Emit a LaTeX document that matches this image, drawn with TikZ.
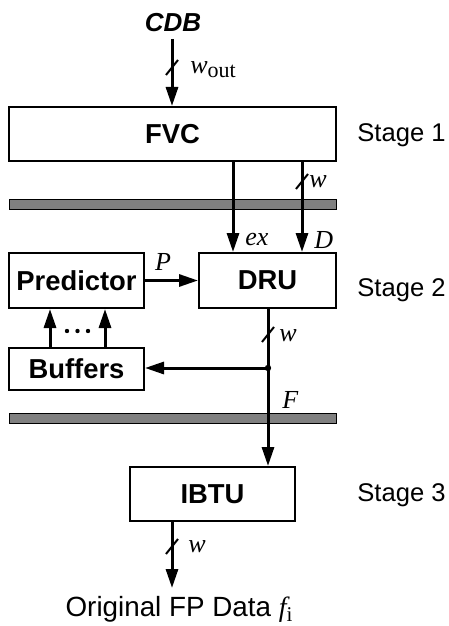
\documentclass[tikz,border=0pt]{standalone}
\usepackage{fontspec}
\setmainfont{Liberation Sans}
\newfontfamily\tms{Liberation Serif}
\usetikzlibrary{arrows.meta}
\definecolor{bargray}{RGB}{128,128,128}
\newcommand{\mv}[1]{{\tms\itshape #1}}
\newcommand{\mr}[1]{{\tms #1}}
\begin{document}
\begin{tikzpicture}[x=0.5pt,y=-0.5pt,
  blk/.style={draw=black,line width=1pt,fill=white,font=\bfseries\fontsize{13.7}{16}\selectfont,inner sep=0pt},
  busbar/.style={draw=black,line width=0.5pt,fill=bargray,minimum width=163.5pt,minimum height=5pt,inner sep=0pt},
  wire/.style={line width=1.5pt},
  arr/.style={wire,-{Triangle[length=9.5pt,width=6pt]}},
  lbl/.style={font=\fontsize{13}{15}\selectfont,inner sep=0pt},
  stg/.style={font=\fontsize{12.8}{15}\selectfont,anchor=west,inner sep=0pt},
  slash/.style={line width=1pt}]
\useasboundingbox (0,0) rectangle (449,626);
% bars
\node[busbar] (bar1) at (172.5,204) {};
\node[busbar] (bar2) at (172.5,418) {};
% blocks
\node[blk,minimum width=163.5pt,minimum height=27pt] (fvc) at (172.5,134) {FVC};
\node[blk,minimum width=67.5pt,minimum height=27.5pt] (pred) at (76.5,280.5) {Predictor};
\node[blk,minimum width=68.5pt,minimum height=27.5pt] (dru) at (267.5,280.5) {DRU};
\node[blk,minimum width=67.5pt,minimum height=21pt] (buf) at (76.5,369) {Buffers};
\node[blk,minimum width=82.5pt,minimum height=27pt] (ibtu) at (212.5,494) {IBTU};
% texts
\node[font=\bfseries\itshape\fontsize{13}{15}\selectfont,inner sep=0pt] (cdb) at (173,23) {CDB};
\node[font=\fontsize{13.9}{16}\selectfont,inner sep=0pt] (out) at (179,609) {Original FP Data \mv{f}\raisebox{-0.35ex}{\mr{\fontsize{10.5}{12}\selectfont i}}};
\node[stg] (s1) at (357,135) {Stage 1};
\node[stg] (s2) at (357,290) {Stage 2};
\node[stg] (s3) at (357,495) {Stage 3};
% coordinates
\coordinate (cin) at (172,39);
\coordinate (xe) at (233,0);
\coordinate (xd) at (302,0);
\coordinate (xm) at (268,0);
\coordinate (xo) at (172,0);
\coordinate (jn) at (268,368);
\coordinate (xb1) at (50,0);
\coordinate (xb2) at (105,0);
% connectors
\draw[arr] (cin) -- (cin |- fvc.north);
\draw[arr] (fvc.south -| xe) -- (dru.north -| xe);
\draw[arr] (fvc.south -| xd) -- (dru.north -| xd);
\draw[arr] (pred.east) -- (dru.west);
\draw[wire] (dru.south -| xm) -- (jn);
\draw[arr] (jn) -- (ibtu.north -| xm);
\draw[arr] (jn) -- (buf.east |- jn);
\fill (jn) circle (3.2);
\draw[arr] (buf.north -| xb1) -- (pred.south -| xb1);
\draw[arr] (buf.north -| xb2) -- (pred.south -| xb2);
\draw[arr] (ibtu.south -| xo) -- (xo |- 588,588);
% slashes
\draw[slash] (166,75) -- (178,60);
\draw[slash] (296,189) -- (308,174);
\draw[slash] (262,342) -- (274,327);
\draw[slash] (166,554) -- (178,539);
% labels
\node[lbl,anchor=west] at (190,70) {\mv{w}\raisebox{-0.3ex}{\mr{\fontsize{11}{13}\selectfont out}}};
\node[lbl,anchor=west] at (309,182) {\mv{w}};
\node[lbl,anchor=west] at (245,240) {\mv{ex}};
\node[lbl,anchor=west] at (314,240) {\mv{D}};
\node[lbl] at (163,262) {\mv{P}};
\node[lbl,anchor=west] at (279,336) {\mv{w}};
\node[lbl,anchor=west] at (282,400) {\mv{F}};
\node[lbl,anchor=west] at (188,547) {\mv{w}};
% dots
\fill (67,331) circle (2.2) (77.5,331) circle (2.2) (88,331) circle (2.2);
\end{tikzpicture}
\end{document}
